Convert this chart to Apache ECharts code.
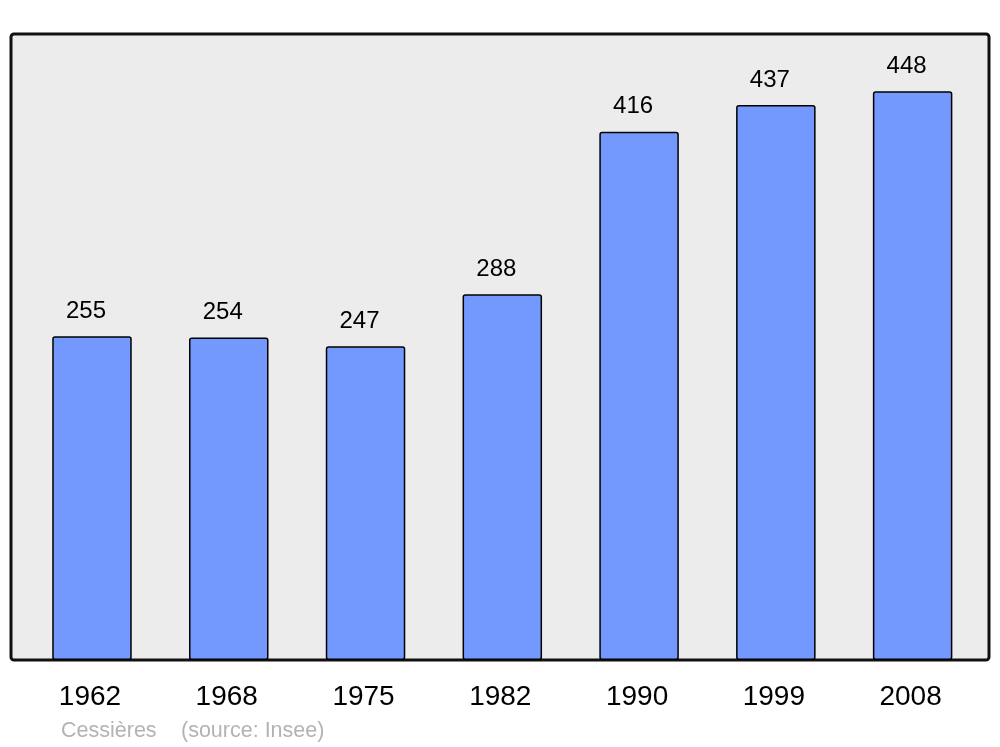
<!DOCTYPE html>
<html><head><meta charset="utf-8">
<script src="https://cdn.jsdelivr.net/npm/echarts@6/dist/echarts.min.js"></script>
<style>html,body{margin:0;padding:0;background:#fff}#c{width:1000px;height:747px}</style>
</head><body><div id="c"></div>
<script>
const years = ['1962','1968','1975','1982','1990','1999','2008'];
const population = [255, 254, 247, 288, 416, 437, 448];
const placeName = 'Cessières';
const sourceText = '(source: Insee)';

const chart = echarts.init(document.getElementById('c'), null, {renderer:'canvas'});
chart.setOption({
  animation: false,
  textStyle: {fontFamily: 'Liberation Sans, Arial, sans-serif'},
  grid: {left: 23.6, right: 19, top: 34, bottom: 87},
  graphic: [
    {type:'rect', z:-10, silent:true, shape:{x:11, y:34, width:978, height:626, r:3},
     style:{fill:'#ececec', stroke:'#111', lineWidth:3}},
    {type:'text', left:61, top:720, style:{text:placeName, fill:'#b3b3b3', font:'21.5px "Liberation Sans", Arial, sans-serif'}},
    {type:'text', left:181, top:720, style:{text:sourceText, fill:'#b3b3b3', font:'21.5px "Liberation Sans", Arial, sans-serif'}}
  ],
  xAxis: {type:'category', data: years,
    axisLine:{show:false}, axisTick:{show:false},
    axisLabel:{color:'#000', fontSize:28, margin:23, padding:[0,4,0,0], fontFamily:'Liberation Sans'}},
  yAxis: {type:'value', min:0, max:493, show:false, splitLine:{show:false}},
  series: [{type:'bar', data: population, barWidth:79.5,
    itemStyle:{color:'#7399ff', borderColor:'#000', borderWidth:1.5, borderRadius:2},
    label:{show:true, position:'top', distance:13, offset:[-6,0], color:'#000', fontSize:24, fontFamily:'Liberation Sans'}}]
});
</script></body></html>
